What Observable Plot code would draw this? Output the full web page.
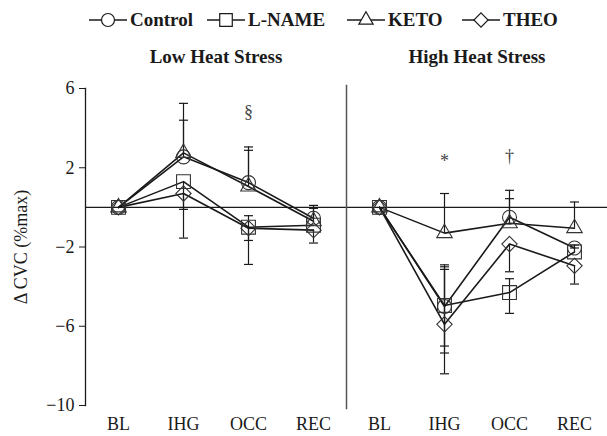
<!DOCTYPE html>
<html><head><meta charset="utf-8">
<script src="https://cdn.jsdelivr.net/npm/d3@7"></script>
<script src="https://cdn.jsdelivr.net/npm/@observablehq/plot@0.6"></script>
<style>
body{margin:0;background:#fff;font-family:"Liberation Serif","Times New Roman",serif;color:#1a1a1a;}
#wrap{width:607px;height:436px;position:relative;overflow:hidden;}
#legend{height:38px;position:relative;font-weight:bold;font-size:19px;}
.item{position:absolute;top:9px;display:flex;align-items:center;white-space:nowrap;}
.item svg{margin-right:3px;}
</style></head><body><div id="wrap"><div id="legend"></div><div id="chart"></div></div>
<script>
const conditions = ["BL", "IHG", "OCC", "REC"];
const panels = ["Low Heat Stress", "High Heat Stress"];
const seriesNames = ["Control", "L-NAME", "KETO", "THEO"];
const yTicks = [-10, -6, -2, 2, 6];

// means, order: Control, L-NAME, KETO, THEO
const lowMeans = [
  [0, 2.55, 1.25, -0.55],
  [0, 1.3, -1.0, -0.9],
  [0, 2.75, 1.05, -0.7],
  [0, 0.7, -1.05, -1.15]
];
const highMeans = [
  [0, -5.0, -0.5, -2.05],
  [0, -4.95, -4.3, -2.25],
  [0, -1.3, -0.8, -1.05],
  [0, -5.9, -1.85, -2.95]
];
// visible error bar lengths (upward / downward), null = not drawn
const lowErrUp = [
  [null, 1.85, 1.8, 0.65],
  [null, null, null, null],
  [null, 2.5, 1.83, 0.65],
  [null, null, 0.63, null]
];
const lowErrDown = [
  [null, null, null, null],
  [null, 2.85, 1.88, null],
  [null, null, null, null],
  [null, 0.8, 0.62, 0.65]
];
const highErrUp = [
  [null, 2.0, 1.36, 0.15],
  [null, 2.05, 0.7, 0.2],
  [null, 2.0, 1.24, 1.32],
  [null, 2.77, null, null]
];
const highErrDown = [
  [null, 2.0, null, null],
  [null, 2.4, 1.05, null],
  [null, null, null, null],
  [null, 2.5, 1.4, 0.92]
];

// significance annotations
const annotPanel = ["Low Heat Stress", "High Heat Stress", "High Heat Stress"];
const annotCondition = ["OCC", "IHG", "OCC"];
const annotLabel = ["\u00a7", "*", "\u2020"];
const annotValue = [4.8, 2.35, 2.6];

// style
const symbols = ["circle", "square2", "triangle2", "diamond2"];
const radii = [7, 8.8, 7.4, 6.9];
const legendLeft = [89, 207, 347, 462];

const rows = [];
const errRows = [];
[[panels[0], lowMeans, lowErrUp, lowErrDown], [panels[1], highMeans, highErrUp, highErrDown]].forEach(([panel, means, up, down]) => {
  seriesNames.forEach((s, si) => {
    conditions.forEach((c, ci) => {
      const v = means[si][ci];
      rows.push({panel, series: s, condition: c, value: v});
      if (up[si][ci] != null) errRows.push({panel, series: s, condition: c, y1: v, y2: v + up[si][ci]});
      if (down[si][ci] != null) errRows.push({panel, series: s, condition: c, y1: v, y2: v - down[si][ci]});
    });
  });
});
const annots = annotLabel.map((t, i) => ({panel: annotPanel[i], condition: annotCondition[i], label: t, value: annotValue[i]}));

// legend
const legend = document.getElementById("legend");
seriesNames.forEach((s, i) => {
  const item = document.createElement("div");
  item.className = "item";
  item.style.left = legendLeft[i] + "px";
  const symType = [d3.symbolCircle, d3.symbolSquare2, d3.symbolTriangle2, d3.symbolDiamond2][i];
  const r = [6.5, 8, 6.8, 6.4][i];
  const path = d3.symbol(symType, Math.PI * r * r)();
  item.innerHTML = `<svg width="38" height="20"><line x1="0" x2="38" y1="10" y2="10" stroke="#1a1a1a" stroke-width="1.3"/><path d="${path}" transform="translate(19,10)" fill="#fff" stroke="#1a1a1a" stroke-width="1.2"/></svg><span>${s}</span>`;
  legend.appendChild(item);
});

// horizontal cap symbol for error bars
const capSymbol = {draw(context, size) { const w = Math.sqrt(size / Math.PI); context.moveTo(-w, 0); context.lineTo(w, 0); }};

const marks = [
  Plot.ruleY([0], {stroke: "#1a1a1a", strokeWidth: 1.2}),
  Plot.frame({anchor: "left", facetAnchor: "left", stroke: "#1a1a1a", strokeWidth: 1.3}),
  Plot.frame({anchor: "left", facetAnchor: "right", stroke: "#555", strokeWidth: 1.5, insetTop: -3, insetBottom: -3}),
  Plot.axisFx({anchor: "top", label: null, tickSize: 0, tickPadding: 26, fontWeight: "bold", fontSize: 19}),
  Plot.axisX({anchor: "bottom", label: null, tickSize: 0, tickPadding: 12, fontSize: 18}),
  Plot.axisY({anchor: "left", ticks: yTicks, tickFormat: d => d < 0 ? "\u2212" + Math.abs(d) : String(d), tickSize: 6, tickPadding: 5, fontSize: 18,
    label: "\u0394 CVC (%max)", labelAnchor: "center", labelArrow: "none", labelOffset: 71}),
  Plot.ruleX(errRows, {fx: "panel", x: "condition", y1: "y1", y2: "y2", stroke: "#1a1a1a", strokeWidth: 1.2}),
  Plot.dot(errRows, {fx: "panel", x: "condition", y: "y2", symbol: capSymbol, r: 4.5, fill: "none", stroke: "#1a1a1a", strokeWidth: 1.2}),
  Plot.line(rows, {fx: "panel", x: "condition", y: "value", z: "series", stroke: "#1a1a1a", strokeWidth: 1.6}),
  Plot.text(annots, {fx: "panel", x: "condition", y: "value", text: "label", fontSize: 18, fill: "#444", lineAnchor: "middle"})
];
seriesNames.forEach((s, i) => {
  marks.push(Plot.dot(rows.filter(d => d.series === s), {fx: "panel", x: "condition", y: "value", symbol: symbols[i], r: radii[i], fill: "none", stroke: "#333", strokeWidth: 1.1}));
});

const chart = Plot.plot({
  width: 607,
  height: 398,
  marginLeft: 84,
  marginRight: 0,
  marginTop: 50,
  marginBottom: 31,
  style: {fontFamily: "'Liberation Serif', 'Times New Roman', serif", fontSize: "18px", color: "#1a1a1a", background: "#fff"},
  fx: {domain: panels, padding: 0, label: null},
  x: {domain: conditions, padding: 0.5, label: null},
  y: {domain: [-10, 6], label: null},
  marks
});
document.getElementById("chart").appendChild(chart);
</script></body></html>
